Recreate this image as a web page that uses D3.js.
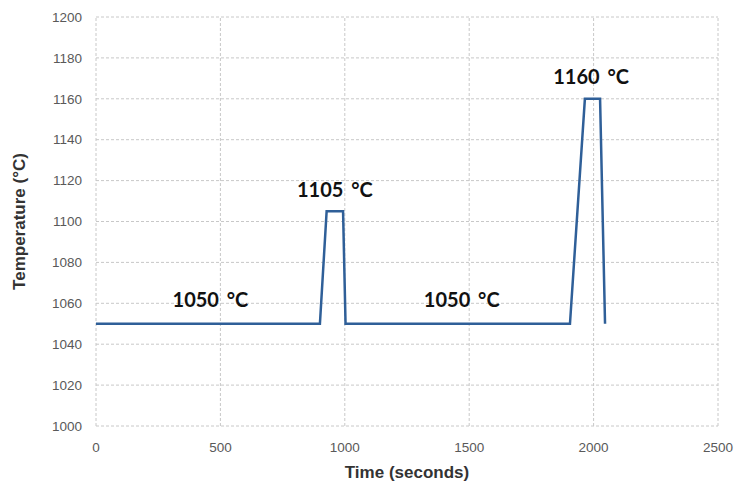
<!DOCTYPE html>
<html><head><meta charset="utf-8">
<script src="https://cdn.jsdelivr.net/npm/d3@7"></script>
<style>body{margin:0;background:#fff}</style>
</head><body>
<svg id="c" width="739" height="486"></svg>
<script>
const timeSec = [0, 900, 927, 993, 1003, 1905, 1965, 2026, 2046];
const tempC   = [1050, 1050, 1105, 1105, 1050, 1050, 1160, 1160, 1050];
const xTicks = [0, 500, 1000, 1500, 2000, 2500];
const yTicks = [1000, 1020, 1040, 1060, 1080, 1100, 1120, 1140, 1160, 1180, 1200];
const labelTexts = ["1050 °C", "1105 °C", "1050 °C", "1160 °C"];
const labelX = [460, 960, 1470, 1990];
const labelY = [1058, 1112, 1058, 1167];

const svg = d3.select("#c");
const x = d3.scaleLinear().domain([0, 2500]).range([96, 718]);
const y = d3.scaleLinear().domain([1000, 1200]).range([426, 17]);

const grid = svg.append("g");
grid.selectAll(".gy").data(yTicks).join("line")
  .attr("x1", x(0)).attr("x2", x(2500)).attr("y1", d => y(d)).attr("y2", d => y(d))
  .attr("stroke", "#c8c8c8").attr("stroke-dasharray", "3,2").attr("stroke-width", 1);
grid.selectAll(".gx").data(xTicks).join("line")
  .attr("y1", y(1000)).attr("y2", y(1200)).attr("x1", d => x(d)).attr("x2", d => x(d))
  .attr("stroke", "#c8c8c8").attr("stroke-dasharray", "3,2").attr("stroke-width", 1);

const font = "Liberation Sans, Arial, sans-serif";
svg.append("g").selectAll("text").data(yTicks).join("text")
  .attr("x", 82).attr("y", d => y(d)).attr("dy", "0.35em").attr("text-anchor", "end")
  .attr("font-family", font).attr("font-size", 13.5).attr("fill", "#595959").text(d => d);
svg.append("g").selectAll("text").data(xTicks).join("text")
  .attr("x", d => x(d)).attr("y", 452).attr("text-anchor", "middle")
  .attr("font-family", font).attr("font-size", 13.5).attr("fill", "#595959").text(d => d);

const line = d3.line().x((d, i) => x(timeSec[i])).y((d, i) => y(tempC[i]));
svg.append("path").datum(timeSec).attr("d", line)
  .attr("fill", "none").attr("stroke", "#2f5f98").attr("stroke-width", 2.5).attr("stroke-linejoin", "miter");

svg.append("g").selectAll("text").data(labelTexts).join("text")
  .attr("x", (d, i) => x(labelX[i])).attr("y", (d, i) => y(labelY[i]))
  .attr("text-anchor", "middle").attr("font-family", "Lato, 'Open Sans', sans-serif")
  .attr("font-weight", "bold").attr("font-size", 20).attr("word-spacing", 3).attr("fill", "#111").text(d => d);

svg.append("text").attr("x", x(1250)).attr("y", 478).attr("text-anchor", "middle")
  .attr("font-family", font).attr("font-weight", "bold").attr("font-size", 17).attr("fill", "#333")
  .text("Time (seconds)");
svg.append("text").attr("transform", `translate(25,${y(1100)}) rotate(-90)`).attr("text-anchor", "middle")
  .attr("font-family", font).attr("font-weight", "bold").attr("font-size", 17).attr("fill", "#333")
  .text("Temperature (°C)");
</script>
</body></html>
